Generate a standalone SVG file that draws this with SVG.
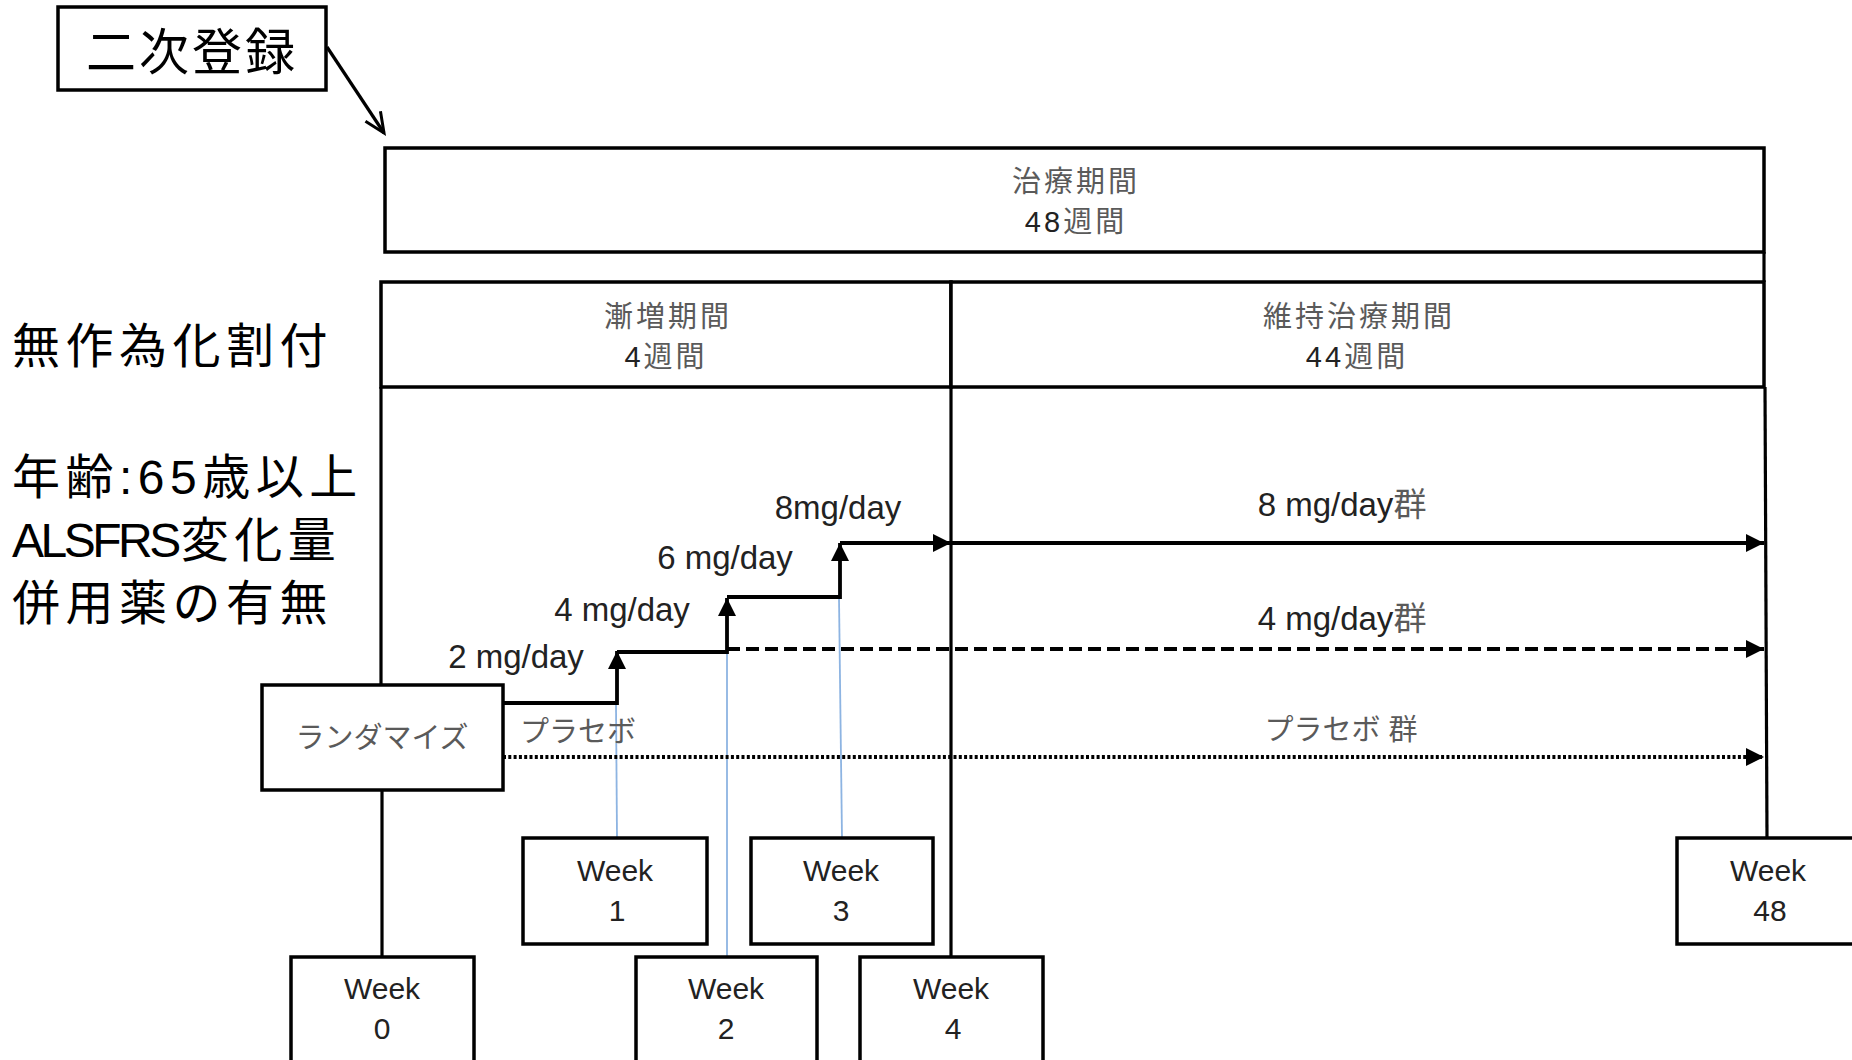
<svg xmlns="http://www.w3.org/2000/svg" width="1852" height="1060" viewBox="0 0 1852 1060">
<style>
.box{fill:#fff;stroke:#000;stroke-width:3.5}
.ln{fill:none;stroke:#000;stroke-width:3.2}
.step{fill:none;stroke:#000;stroke-width:3.8}
.dash{stroke-dasharray:13 6}
.dot{stroke-dasharray:3 2.3;stroke-width:4}
.blue{fill:none;stroke:#8db4e2;stroke-width:1.8}
.t{font-family:"Liberation Sans","Noto Sans CJK JP",sans-serif;text-anchor:middle;fill:#222}
.hd{font-size:29px;letter-spacing:3px}
.g{fill:#5a5a5a}
.dose{font-size:33px}
.wk{font-size:30px}
.big{font-family:"Liberation Sans","Noto Sans CJK JP",sans-serif;font-size:48px;letter-spacing:5.5px;fill:#000}
</style>
<defs>
<marker id="ah" markerUnits="userSpaceOnUse" markerWidth="18" markerHeight="18" refX="18" refY="9" orient="auto">
<path d="M0,0 L18,9 L0,18 z" fill="#000"/>
</marker>
<marker id="open" markerUnits="userSpaceOnUse" markerWidth="26" markerHeight="26" refX="22" refY="11" orient="auto">
<path d="M2,2 L22,11 L2,20" fill="none" stroke="#000" stroke-width="3"/>
</marker>
</defs>

<g id="enroll">
<rect class="box" x="58" y="7" width="268" height="83" stroke-width="2.5"/>
<text x="192" y="70" style="font-family:'Noto Sans CJK JP',sans-serif;font-size:50px;letter-spacing:3px;text-anchor:middle;fill:#000">二次登録</text>
</g>

<g id="treatment-period">
<rect class="box" x="385" y="148" width="1379" height="104"/>
<text class="t hd" x="1076" y="192"><tspan class="g">治療期間</tspan></text>
<text class="t hd" x="1076" y="232">48<tspan class="g">週間</tspan></text>
</g>

<g id="titration-period">
<rect class="box" x="381" y="282" width="570" height="105"/>
<text class="t hd" x="668" y="327"><tspan class="g">漸増期間</tspan></text>
<text class="t hd" x="666" y="367">4<tspan class="g">週間</tspan></text>
</g>

<g id="maintenance-period">
<rect class="box" x="951" y="282" width="813" height="105"/>
<text class="t hd" x="1359" y="327"><tspan class="g">維持治療期間</tspan></text>
<text class="t hd" x="1357" y="367">44<tspan class="g">週間</tspan></text>
</g>

<g id="criteria">
<text class="big" x="12" y="363">無作為化割付</text>
<text class="big"><tspan x="12" y="494">年齢:65歳以上</tspan><tspan x="12" y="557"><tspan style="letter-spacing:-3.5px">ALSFRS</tspan><tspan dx="3">変化量</tspan></tspan><tspan x="12" y="620">併用薬の有無</tspan></text>
</g>

<g id="connectors">
<line class="ln" x1="327" y1="47" x2="384" y2="133" stroke-width="2.6" marker-end="url(#open)"/>
<line class="ln" x1="1764" y1="252" x2="1764" y2="282"/>
<line class="ln" x1="381" y1="387" x2="381" y2="685"/>
<line class="ln" x1="382" y1="790" x2="382" y2="957"/>
<line class="ln" x1="951" y1="387" x2="951" y2="957"/>
<line class="ln" x1="1765" y1="387" x2="1767" y2="838"/>
<line class="blue" x1="617" y1="838" x2="616" y2="704"/>
<line class="blue" x1="727" y1="957" x2="727" y2="652"/>
<line class="blue" x1="842" y1="838" x2="839" y2="598"/>
<path class="step" d="M503,703 H617 V651" marker-end="url(#ah)"/>
<path class="step" d="M617,652 H727 V598" marker-end="url(#ah)"/>
<path class="step" d="M727,597 H840 V543" marker-end="url(#ah)"/>
<path class="step" d="M840,543 H951" marker-end="url(#ah)"/>
<path class="step" d="M951,543 H1764" marker-end="url(#ah)"/>
<path class="step dash" d="M727,649 H1764" marker-end="url(#ah)"/>
<path class="step dot" d="M503,757 H1764" marker-end="url(#ah)"/>
</g>

<g id="labels">
<text class="t dose" x="516" y="668">2 mg/day</text>
<text class="t dose" x="622" y="621">4 mg/day</text>
<text class="t dose" x="725" y="569">6 mg/day</text>
<text class="t dose" x="838" y="519">8mg/day</text>
<text class="t dose" x="1342" y="516">8 mg/day<tspan class="g">群</tspan></text>
<text class="t dose" x="1342" y="630">4 mg/day<tspan class="g">群</tspan></text>
<text class="t g" x="1341" y="740" style="font-size:29px">プラセボ 群</text>
<text class="t g" x="520" y="742" style="font-size:29px;text-anchor:start">プラセボ</text>
</g>

<g id="randomize">
<rect class="box" x="262" y="685" width="241" height="105"/>
<text class="t g" x="382" y="748" style="font-size:29px">ランダマイズ</text>
</g>

<g id="week0">
<rect class="box" x="291" y="957" width="183" height="112"/>
<text class="t wk" x="382" y="999">Week</text>
<text class="t wk" x="382" y="1039">0</text>
</g>
<g id="week1">
<rect class="box" x="523" y="838" width="184" height="106"/>
<text class="t wk" x="615" y="881">Week</text>
<text class="t wk" x="617" y="921">1</text>
</g>
<g id="week2">
<rect class="box" x="636" y="957" width="181" height="112"/>
<text class="t wk" x="726" y="999">Week</text>
<text class="t wk" x="726" y="1039">2</text>
</g>
<g id="week3">
<rect class="box" x="751" y="838" width="182" height="106"/>
<text class="t wk" x="841" y="881">Week</text>
<text class="t wk" x="841" y="921">3</text>
</g>
<g id="week4">
<rect class="box" x="860" y="957" width="183" height="112"/>
<text class="t wk" x="951" y="999">Week</text>
<text class="t wk" x="953" y="1039">4</text>
</g>
<g id="week48">
<rect class="box" x="1677" y="838" width="190" height="106"/>
<text class="t wk" x="1768" y="881">Week</text>
<text class="t wk" x="1770" y="921">48</text>
</g>
</svg>
